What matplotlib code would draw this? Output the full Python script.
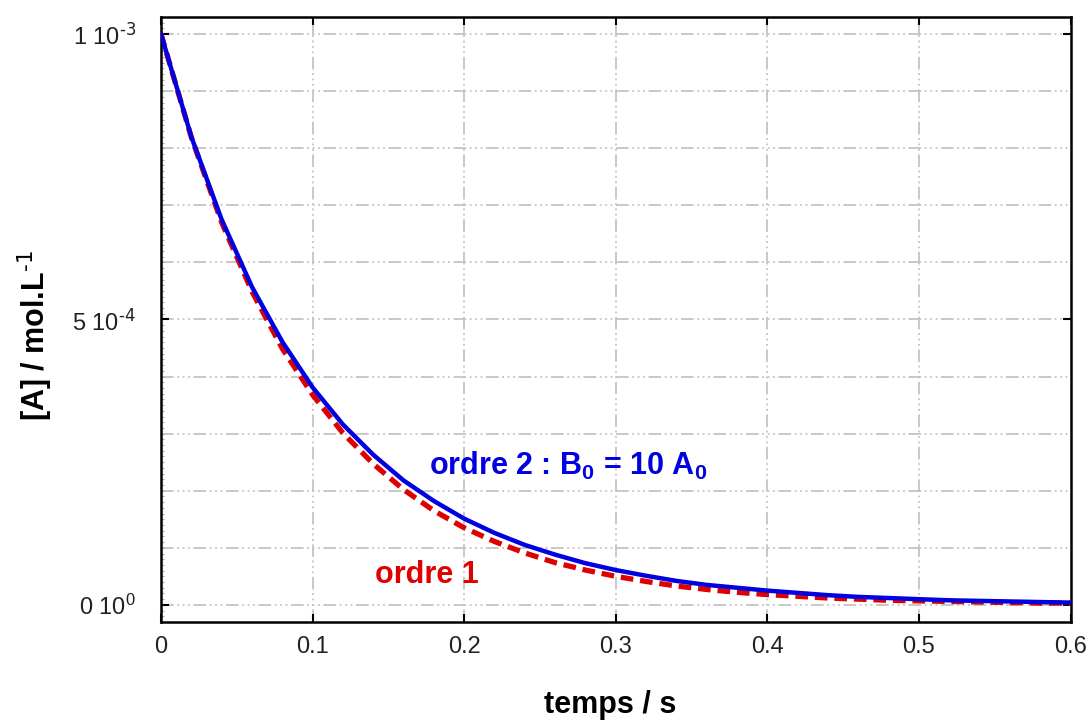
import matplotlib
matplotlib.use("Agg")
import matplotlib.pyplot as plt
from matplotlib.ticker import MultipleLocator, FixedLocator

plt.rcParams['font.family'] = ['Liberation Sans', 'DejaVu Sans']
plt.rcParams['mathtext.default'] = 'regular'

# temps (s) et concentrations lues (en 1e-3 mol/L)
temps = [0.00, 0.02, 0.04, 0.06, 0.08, 0.10, 0.12, 0.14, 0.16, 0.18,
         0.20, 0.22, 0.24, 0.26, 0.28, 0.30, 0.32, 0.34, 0.36, 0.38,
         0.40, 0.42, 0.44, 0.46, 0.48, 0.50, 0.52, 0.54, 0.56, 0.58, 0.60]
ordre1 = [1.000, 0.819, 0.670, 0.549, 0.449, 0.368, 0.301, 0.247, 0.202, 0.165,
          0.135, 0.111, 0.091, 0.074, 0.061, 0.050, 0.041, 0.033, 0.027, 0.022,
          0.018, 0.015, 0.012, 0.010, 0.008, 0.007, 0.006, 0.005, 0.004, 0.003, 0.003]
ordre2 = [1.000, 0.820, 0.675, 0.557, 0.461, 0.381, 0.316, 0.263, 0.218, 0.182,
          0.151, 0.126, 0.105, 0.088, 0.073, 0.061, 0.051, 0.042, 0.035, 0.030,
          0.025, 0.021, 0.017, 0.014, 0.012, 0.010, 0.008, 0.007, 0.006, 0.005, 0.004]

A1 = [v * 1e-3 for v in ordre1]
A2 = [v * 1e-3 for v in ordre2]

yticks = [0, 5e-4, 1e-3]
yticklabels = [r'0 10$^{0}$', r'5 10$^{\text{-4}}$', r'1 10$^{\text{-3}}$']
xticks = [0, 0.1, 0.2, 0.3, 0.4, 0.5, 0.6]
xticklabels = ['0', '0.1', '0.2', '0.3', '0.4', '0.5', '0.6']

fig = plt.figure(figsize=(10.88, 7.22), dpi=100)
ax = fig.add_axes([0.148, 0.1385, 0.836, 0.838])

# grille en tirets-points
grid_style = dict(color='#c4c4c4', lw=1.3, ls=(0, (7, 2, 1, 2, 1, 2, 1, 2)), zorder=0)
for i in range(11):
    ax.axhline(i * 1e-4, **grid_style)
for xv in xticks[1:-1]:
    ax.axvline(xv, **grid_style)

ax.plot(temps, A1, color='#e00000', lw=3.8, ls=(0, (2.4, 1.3)), zorder=2)
ax.plot(temps, A2, color='#0000e0', lw=3.2, zorder=3)

ax.text(0.177, 2.43e-4, r'ordre 2 : B$_0$ = 10 A$_0$', color='#0000e0',
        fontsize=22, fontweight='bold', va='center', ha='left')
ax.text(0.141, 0.52e-4, 'ordre 1', color='#e00000',
        fontsize=22, fontweight='bold', va='center', ha='left')

ax.set_xlim(0, 0.6)
ax.set_ylim(-3e-5, 1.03e-3)

ax.set_xticks(xticks)
ax.set_xticklabels(xticklabels)
ax.set_yticks(yticks)
ax.set_yticklabels(yticklabels)
ax.yaxis.set_minor_locator(MultipleLocator(1e-5))
ax.xaxis.set_minor_locator(FixedLocator([]))
ax.tick_params(axis='both', which='major', direction='in', length=6, width=1.5,
               labelsize=17, top=True, right=True, pad=10, colors='black')
ax.tick_params(axis='y', which='minor', direction='in', length=2, width=0.8,
               color='#aaaaaa', right=False)
ax.tick_params(axis='y', pad=18)
for lab in ax.get_xticklabels() + ax.get_yticklabels():
    lab.set_color('#222222')

for s in ax.spines.values():
    s.set_linewidth(1.8)

fig.text(0.561, 0.024, 'temps / s', fontsize=22, fontweight='bold',
         ha='center', va='center')
fig.text(0.032, 0.535, r'[A] / mol.L$^{\text{-1}}$', fontsize=22, fontweight='bold',
         ha='center', va='center', rotation=90)

fig.savefig('out.png', dpi=100)
